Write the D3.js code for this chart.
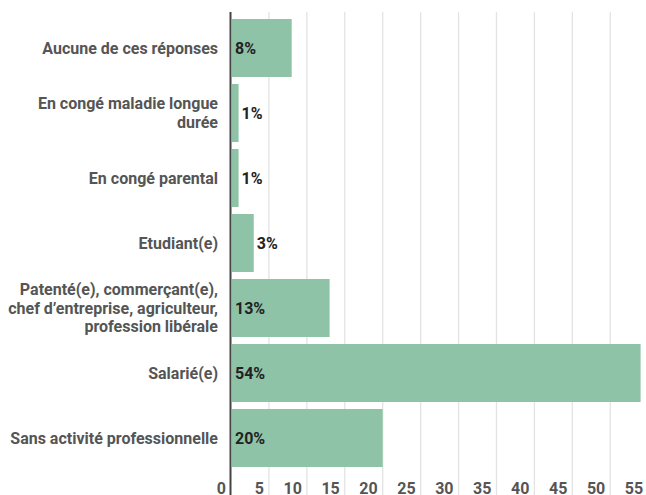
<!DOCTYPE html>
<html><head><meta charset="utf-8">
<script src="https://cdn.jsdelivr.net/npm/d3@7"></script>
<style>
html,body{margin:0;padding:0;background:#fff;}
svg{display:block;font-family:Roboto,"Noto Sans",sans-serif;}
</style></head>
<body>
<svg id="chart" width="646" height="495"></svg>
<script>
const categories = [
  "Aucune de ces réponses",
  "En congé maladie longue\ndurée",
  "En congé parental",
  "Etudiant(e)",
  "Patenté(e), commerçant(e),\nchef d’entreprise, agriculteur,\nprofession libérale",
  "Salarié(e)",
  "Sans activité professionnelle"
];
const values = [8, 1, 1, 3, 13, 54, 20];
const valueLabels = ["8%", "1%", "1%", "3%", "13%", "54%", "20%"];
const tickValues = [0, 5, 10, 15, 20, 25, 30, 35, 40, 45, 50, 55];

const svg = d3.select("#chart");
const x0 = 231;
const x = d3.scaleLinear().domain([0, 55]).range([x0, x0 + 55 * 7.585]);
const y = d3.scaleBand().domain(categories).range([15.5, 470.5]).paddingInner(0.1077).paddingOuter(0.0538);

// gridlines
svg.append("g").selectAll("line").data(tickValues.filter(d => d > 0)).join("line")
  .attr("x1", d => x(d)).attr("x2", d => x(d))
  .attr("y1", 12).attr("y2", 495)
  .attr("stroke", "#e3e3e3").attr("stroke-width", 1.3);

// bars
svg.append("g").selectAll("rect").data(categories).join("rect")
  .attr("x", x(0) + 1)
  .attr("y", (d) => y(d))
  .attr("width", (d, i) => x(values[i]) - x(0) - 1)
  .attr("height", y.bandwidth())
  .attr("fill", "#8fc3a8");

// axis line
svg.append("line").attr("x1", x(0) - 0.5).attr("x2", x(0) - 0.5).attr("y1", 12).attr("y2", 495)
  .attr("stroke", "#444").attr("stroke-width", 2);

// x tick labels
svg.append("g").selectAll("text").data(tickValues).join("text")
  .attr("x", d => x(d) - 5).attr("y", 494)
  .attr("text-anchor", "end")
  .attr("font-size", 16).attr("font-weight", 700).attr("fill", "#555")
  .text(d => d);

// category labels
const lineH = 18.5;
svg.append("g").selectAll("text").data(categories).join("text")
  .attr("text-anchor", "end").attr("font-size", 16).attr("font-weight", 700).attr("fill", "#555")
  .each(function(d) {
    const lines = d.split("\n");
    const cy = y(d) + y.bandwidth() / 2;
    const start = cy - (lines.length - 1) * lineH / 2;
    d3.select(this).selectAll("tspan").data(lines).join("tspan")
      .attr("x", 218).attr("y", (l, j) => start + j * lineH).attr("dy", "0.35em").text(l => l);
  });

// value labels
svg.append("g").selectAll("text").data(categories).join("text")
  .attr("x", (d, i) => values[i] >= 5 ? x(0) + 4 : x(values[i]) + 3)
  .attr("y", d => y(d) + y.bandwidth() / 2).attr("dy", "0.35em")
  .attr("font-size", 16).attr("font-weight", 700).attr("fill", "#222")
  .text((d, i) => valueLabels[i]);
</script>
</body></html>
